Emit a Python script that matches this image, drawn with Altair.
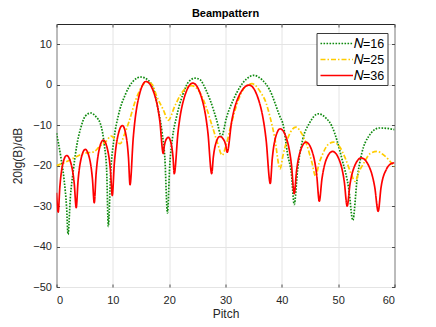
import altair as alt
import pandas as pd

# ---- data ----
series_names = ["𝑁=16", "𝑁=25", "𝑁=36"]
series_colors = ["#0f8a0f", "#ffcc00", "#ff0000"]
series_dash = [[1.6, 1.4], [5, 2, 1.5, 2], [1, 0]]

x_n16 = [0, 0.75, 1.35, 1.8, 2.05, 2.45, 3.0, 3.6, 4.3, 5.1, 6.1, 7.0, 7.85, 8.5, 8.9, 9.2,
         9.6, 10.2, 11.0, 12.2, 13.5, 15.0, 16.2, 17.35, 17.8, 18.76, 19.23, 19.7, 20.1, 20.6,
         21.3, 22.4, 23.5, 24.6, 25.5, 26.5, 27.25, 28.4, 29.3, 30.2, 31.4, 32.6, 33.8, 35.0,
         36.5, 37.8, 39.55, 40.3, 41.0, 41.7, 42.2, 42.8, 43.7, 44.9, 46.5, 47.8, 48.9, 50.7,
         51.9, 52.6, 53.35, 54.2, 55.4, 57.3, 58.7, 60]
y_n16 = [-12.0, -17.7, -23.5, -30.5, -37.0, -28.0, -21.0, -15.0, -10.7, -7.8, -7.0, -7.9, -9.9,
         -15.0, -21.0, -35.0, -22.0, -13.5, -7.5, -2.5, 0.7, 1.9, 1.2, -1.6, -4.5, -12.0, -18.0,
         -31.7, -20.0, -13.0, -8.0, -2.5, 0.8, 1.6, 1.2, -1.2, -3.7, -8.6, -12.8, -8.0, -3.7,
         -0.5, 1.5, 2.3, 1.2, -1.2, -7.5, -10.3, -17.0, -22.0, -29.6, -21.0, -13.6, -9.5, -7.2,
         -8.2, -10.3, -18.5, -25.9, -33.5, -23.5, -16.9, -12.8, -10.7, -10.8, -11.1]

x_n25 = [0, 1.5, 3.1, 4.8, 6.6, 7.7, 8.8, 9.7, 10.5, 11.3, 12.0, 12.9, 14.0, 15.0, 16.0, 17.0,
         17.8, 18.96, 19.85, 21.0, 22.2, 24.0, 25.1, 26.1, 27.7, 28.6, 29.4, 30.1, 30.8, 32.3,
         33.5, 34.7, 36.2, 37.2, 38.0, 38.7, 39.7, 40.2, 40.7, 41.5, 42.5, 43.5, 44.3, 45.3,
         46.0, 46.6, 47.2, 48.2, 49.2, 50.2, 51.3, 52.3, 53.0, 53.7, 54.5, 55.7, 56.9, 58.0,
         59.0, 60]
y_n25 = [-20.0, -19.2, -18.1, -17.0, -16.6, -15.2, -14.0, -12.7, -13.6, -14.6, -12.5, -9.0, -4.0,
         -0.8, 0.7, 0.0, -2.9, -6.2, -8.8, -5.3, -2.1, -0.25, -1.2, -3.8, -10.5, -14.5, -17.4,
         -15.0, -11.0, -3.7, -0.5, 0.25, -1.8, -4.5, -8.5, -12.8, -20.8, -17.5, -14.8, -11.8,
         -10.5, -12.0, -14.4, -19.0, -22.6, -19.5, -17.3, -14.8, -14.2, -15.2, -18.3, -22.0,
         -23.9, -21.5, -19.5, -17.0, -16.5, -17.3, -18.6, -20.3]

x_n36 = [0, 0.3, 0.6, 1.12, 1.8, 2.56, 3.16, 3.5, 3.82, 4.38, 5.1, 5.82, 6.38, 6.7, 7.02, 7.58,
         8.3, 9.02, 9.58, 9.9, 10.26, 10.89, 11.7, 12.31, 12.78, 13.05, 13.62, 14.62, 15.9,
         17.27, 18.34, 18.95, 19.13, 19.45, 19.85, 20.32, 20.69, 20.9, 21.56, 22.72, 24.2,
         25.71, 26.88, 27.55, 27.84, 28.35, 29.0, 29.59, 30.04, 30.3, 31.08, 32.45, 34.2,
         35.89, 37.2, 37.95, 38.3, 38.91, 39.7, 40.83, 41.7, 42.2, 42.62, 43.36, 44.3, 45.36,
         46.18, 46.65, 47.12, 47.94, 49.0, 50.17, 51.08, 51.6, 52.1, 52.98, 54.1, 55.45, 56.5,
         57.1, 57.6, 58.6, 59.3, 60]
y_n36 = [-26.7, -31.5, -25.2, -19.6, -17.5, -19.4, -24.6, -30.4, -23.9, -18.2, -16.0, -18.0,
         -23.3, -29.2, -22.2, -16.0, -13.7, -15.8, -21.2, -27.4, -19.6, -12.7, -10.1, -12.3,
         -18.1, -24.7, -13.2, -3.0, 0.8, -1.9, -9.0, -17.0, -15.2, -13.6, -13.0, -14.4, -18.0,
         -22.0, -11.9, -3.0, 0.4, -3.0, -11.9, -22.0, -17.9, -14.2, -12.8, -13.4, -14.9, -16.7,
         -9.2, -2.6, -0.1, -3.8, -13.5, -24.4, -18.3, -12.9, -10.9, -13.3, -19.7, -26.9, -21.2,
         -16.1, -14.2, -16.4, -22.2, -28.8, -23.3, -18.3, -16.5, -18.5, -23.9, -30.0, -24.6,
         -19.9, -18.1, -20.1, -25.4, -31.3, -25.5, -20.8, -19.6, -19.3]

x_ticks = [0, 10, 20, 30, 40, 50, 60]
y_ticks = [-50, -40, -30, -20, -10, 0, 10]

# ---- table ----
frames = []
for name, xs, ys in zip(series_names, [x_n16, x_n25, x_n36], [y_n16, y_n25, y_n36]):
    frames.append(pd.DataFrame({"pitch": xs, "db": ys, "series": name}))
df = pd.concat(frames, ignore_index=True)
df["order"] = range(len(df))

FONT = "Liberation Sans"
AX = "#262626"

xs = alt.Scale(domain=[0, 60], nice=False, zero=False)
ys = alt.Scale(domain=[-50, 15], nice=False, zero=False)

# wide line symbol with a small nominal size, so rows stay compact
legend = alt.Legend(title=None, orient="none", legendX=260, legendY=9,
                    symbolType="M-1,0H4", symbolSize=169, symbolStrokeWidth=1.7,
                    labelFont=FONT, labelFontSize=12.5, labelColor="#000000",
                    strokeColor="#3a3a3a", fillColor="white",
                    padding=3, rowPadding=2, labelOffset=19.5)

lines = alt.Chart(df).mark_line(interpolate="monotone", strokeWidth=1.7, clip=True).encode(
    x=alt.X("pitch:Q", scale=xs, title="Pitch",
            axis=alt.Axis(orient="bottom", values=x_ticks, grid=True, domain=False,
                          ticks=True, tickSize=3, offset=-3, labelPadding=7,
                          titlePadding=3)),
    y=alt.Y("db:Q", scale=ys, title="20lg(B)/dB",
            axis=alt.Axis(orient="left", values=y_ticks, grid=True, domain=False,
                          ticks=True, tickSize=3, offset=-3, labelPadding=5,
                          titlePadding=8)),
    color=alt.Color("series:N",
                    scale=alt.Scale(domain=series_names, range=series_colors),
                    legend=legend),
    strokeDash=alt.StrokeDash("series:N",
                              scale=alt.Scale(domain=series_names, range=series_dash),
                              legend=legend),
    detail="series:N",
    order="order:Q",
)

frame_ticks = alt.Chart(df).mark_point(opacity=0).encode(
    x=alt.X("pitch:Q", scale=xs, title=None,
            axis=alt.Axis(orient="top", values=x_ticks, grid=False, domain=False,
                          labels=False, ticks=True, tickSize=3, offset=-3)),
    y=alt.Y("db:Q", scale=ys, title=None,
            axis=alt.Axis(orient="right", values=y_ticks, grid=False, domain=False,
                          labels=False, ticks=True, tickSize=3, offset=-3)),
)

chart = alt.layer(lines, frame_ticks).resolve_axis(x="independent", y="independent").properties(
    width=338, height=263,
    title=alt.Title("Beampattern", fontSize=11, font=FONT, fontWeight="bold",
                    color="#000000", offset=5),
    autosize=alt.AutoSizeParams(type="none"),
    padding={"left": 48.5, "top": 16, "right": 33.5, "bottom": 32},
).configure_view(stroke=AX, strokeWidth=1).configure_axis(
    labelFont=FONT, titleFont=FONT, labelFontSize=11, titleFontSize=12,
    labelColor=AX, titleColor=AX, titleFontWeight="normal",
    tickColor=AX, tickWidth=0.8, gridColor="#e4e4e4", gridWidth=1,
)

chart.save("out.html", embed_options={"renderer": "svg", "actions": False})
